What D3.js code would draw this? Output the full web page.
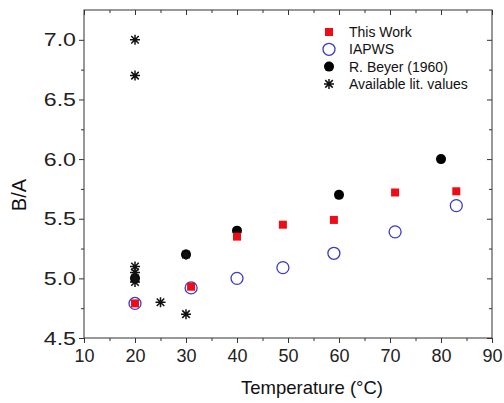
<!DOCTYPE html>
<html>
<head>
<meta charset="utf-8">
<script src="https://cdn.jsdelivr.net/npm/d3@7"></script>
<style>
  body { margin: 0; background: #fff; }
  svg { display: block; font-family: "Liberation Sans", Arial, sans-serif; }
</style>
</head>
<body>
<svg></svg>
<script>
const width = 504, height = 403;
const svg = d3.select("svg").attr("width", width).attr("height", height);

// Data
const thisWorkT = [20, 31, 40, 49, 59, 71, 83];
const thisWorkBA = [4.79, 4.93, 5.35, 5.45, 5.49, 5.72, 5.73];

const iapwsT = [20, 31, 40, 49, 59, 71, 83];
const iapwsBA = [4.79, 4.92, 5.0, 5.09, 5.21, 5.39, 5.61];

const beyerT = [20, 30, 40, 60, 80];
const beyerBA = [5.0, 5.2, 5.4, 5.7, 6.0];

const litT = [20, 20, 20, 20, 20, 20, 25, 30, 30];
const litBA = [7.0, 6.7, 5.1, 5.05, 5.0, 4.97, 4.8, 5.2, 4.7];

const xTicks = [10, 20, 30, 40, 50, 60, 70, 80, 90];
const yTicks = [4.5, 5.0, 5.5, 6.0, 6.5, 7.0];

const legendLabels = ["This Work", "IAPWS", "R. Beyer (1960)", "Available lit. values"];

// Scales
const x = d3.scaleLinear().domain([10, 90]).range([84, 492]);
const y = d3.scaleLinear().domain([4.5, 7.25]).range([338, 10]);

const xMinor = d3.range(15, 90, 10);
const yMinor = d3.range(4.75, 7.25, 0.5);

const axisColor = "#333";

// Frame
svg.append("rect")
    .attr("x", x(10)).attr("y", y(7.25))
    .attr("width", x(90) - x(10)).attr("height", y(4.5) - y(7.25))
    .attr("fill", "none").attr("stroke", axisColor).attr("stroke-width", 1);

function styleAxis(g) {
    g.select(".domain").remove();
    g.selectAll("line").attr("stroke", axisColor);
    g.selectAll("text").attr("fill", "#222");
}

// Bottom axis
svg.append("g").attr("transform", `translate(0,${y(4.5)})`)
    .call(d3.axisBottom(x).tickValues(xTicks).tickSize(5).tickPadding(6).tickFormat(d3.format("d")))
    .call(styleAxis)
    .selectAll("text").attr("font-size", 18);
svg.append("g").attr("transform", `translate(0,${y(4.5)})`)
    .call(d3.axisBottom(x).tickValues(xMinor).tickSize(3).tickFormat(""))
    .call(styleAxis);

// Left axis (labels drawn a little wider, as in the original)
svg.append("g").attr("transform", `translate(${x(10)},0)`)
    .call(d3.axisLeft(y).tickValues(yTicks).tickSize(5).tickPadding(3).tickFormat(d3.format(".1f")))
    .call(styleAxis)
    .selectAll("text")
    .attr("font-size", 19)
    .attr("x", 0)
    .attr("transform", "translate(-8,0) scale(1.22,1)");
svg.append("g").attr("transform", `translate(${x(10)},0)`)
    .call(d3.axisLeft(y).tickValues(yMinor).tickSize(3).tickFormat(""))
    .call(styleAxis);

// Top and right mirrored ticks (inward)
svg.append("g").attr("transform", `translate(0,${y(7.25)})`)
    .call(d3.axisTop(x).tickValues(xTicks).tickSize(-5).tickFormat(""))
    .call(styleAxis);
svg.append("g").attr("transform", `translate(0,${y(7.25)})`)
    .call(d3.axisTop(x).tickValues(xMinor).tickSize(-3).tickFormat(""))
    .call(styleAxis);
svg.append("g").attr("transform", `translate(${x(90)},0)`)
    .call(d3.axisRight(y).tickValues(yTicks).tickSize(-5).tickFormat(""))
    .call(styleAxis);
svg.append("g").attr("transform", `translate(${x(90)},0)`)
    .call(d3.axisRight(y).tickValues(yMinor).tickSize(-3).tickFormat(""))
    .call(styleAxis);

// Axis titles
svg.append("text")
    .attr("x", 312).attr("y", 394)
    .attr("text-anchor", "middle").attr("font-size", 18.5).attr("fill", "#111")
    .text("Temperature (°C)");
svg.append("text")
    .attr("transform", "translate(26,195) rotate(-90)")
    .attr("text-anchor", "middle").attr("font-size", 20).attr("fill", "#111")
    .text("B/A");

// Eight-armed asterisk
function starPath(cx, cy, r) {
    const d = r * 0.75;
    return `M${cx},${cy - r}L${cx},${cy + r}` +
        `M${cx - r},${cy}L${cx + r},${cy}` +
        `M${cx - d},${cy - d}L${cx + d},${cy + d}` +
        `M${cx - d},${cy + d}L${cx + d},${cy - d}`;
}

const blue = "#3a3ac8", red = "#ee0d17";

// Beyer: black filled circles
svg.append("g").selectAll("circle")
    .data(d3.zip(beyerT, beyerBA))
    .enter().append("circle")
    .attr("cx", d => x(d[0])).attr("cy", d => y(d[1]))
    .attr("r", 5).attr("fill", "#000");

// Literature values: asterisks
svg.append("g").selectAll("path")
    .data(d3.zip(litT, litBA))
    .enter().append("path")
    .attr("d", d => starPath(x(d[0]), y(d[1]), 5))
    .attr("stroke", "#111").attr("stroke-width", 1.5).attr("fill", "none");

// IAPWS: open blue circles
svg.append("g").selectAll("circle")
    .data(d3.zip(iapwsT, iapwsBA))
    .enter().append("circle")
    .attr("cx", d => x(d[0])).attr("cy", d => y(d[1]))
    .attr("r", 6).attr("fill", "none").attr("stroke", blue).attr("stroke-width", 1.3);

// This work: red squares
svg.append("g").selectAll("rect")
    .data(d3.zip(thisWorkT, thisWorkBA))
    .enter().append("rect")
    .attr("x", d => x(d[0]) - 4).attr("y", d => y(d[1]) - 4)
    .attr("width", 8).attr("height", 8).attr("fill", red);

// Legend
const legend = svg.append("g");
const lx = 329, ly0 = 32, ldy = 17.3;
legendLabels.forEach((label, i) => {
    const cy = ly0 + i * ldy;
    if (i === 0) legend.append("rect").attr("x", lx - 4).attr("y", cy - 4).attr("width", 8).attr("height", 8).attr("fill", red);
    if (i === 1) legend.append("circle").attr("cx", lx).attr("cy", cy).attr("r", 6).attr("fill", "none").attr("stroke", blue).attr("stroke-width", 1.3);
    if (i === 2) legend.append("circle").attr("cx", lx).attr("cy", cy).attr("r", 5).attr("fill", "#000");
    if (i === 3) legend.append("path").attr("d", starPath(lx, cy, 5)).attr("stroke", "#111").attr("stroke-width", 1.5).attr("fill", "none");
    legend.append("text")
        .attr("x", 349).attr("y", cy + 5)
        .attr("font-size", 14).attr("fill", "#111")
        .text(label);
});
</script>
</body>
</html>
